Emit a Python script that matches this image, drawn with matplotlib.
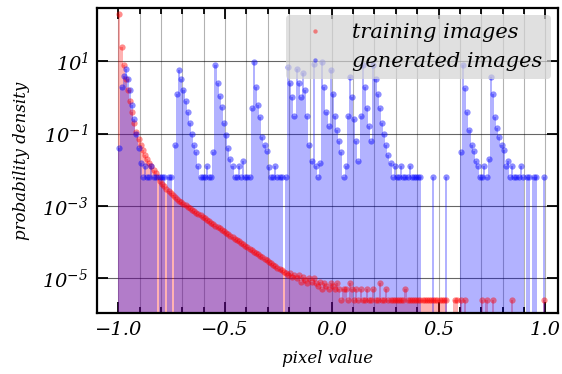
import matplotlib
matplotlib.use("Agg")
import matplotlib.pyplot as plt
import matplotlib.ticker as mticker
import numpy as np

plt.rcParams["font.family"] = "DejaVu Serif"
plt.rcParams["font.style"] = "italic"
plt.rcParams["mathtext.fontset"] = "dejavuserif"
plt.rcParams["mathtext.default"] = "it"

# histogram bins: left edges, width 0.01, from -1.0 to 1.0
BIN_LEFT = np.round(np.arange(-1.0, 1.0, 0.01), 2)
BIN_WIDTH = 0.01

# log10(probability density) per bin, None = empty bin
TRAIN_LOG = [
    2.3, 1.4, 0.9, 0.5, 0.2, -0.1, -0.4, -0.7, -0.95, -1.15,
    -1.3, -1.45, -1.58, -1.7, -1.8, -1.9, -2.0, -2.1, -2.2, -2.3,
    -2.38, -2.45, -2.52, -2.58, -2.64, -2.7, -2.75, -2.8, -2.85, -2.9,
    -2.94, -2.98, -3.02, -3.06, -3.1, -3.14, -3.18, -3.22, -3.26, -3.3,
    -3.34, -3.38, -3.42, -3.46, -3.5, -3.54, -3.58, -3.62, -3.66, -3.7,
    -3.74, -3.78, -3.82, -3.86, -3.9, -3.94, -3.98, -4.02, -4.06, -4.1,
    -4.14, -4.18, -4.22, -4.26, -4.3, -4.34, -4.38, -4.42, -4.46, -4.5,
    -4.54, -4.58, -4.62, -4.66, -4.7, -4.74, -4.78, -4.82, -4.86, -4.9,
    -4.85, -4.95, -4.9, -5.0, -4.92, -5.1, -4.95, -5.05, -5.14, -5.0,
    -5.1, -5.0, -5.14, -5.2, -5.1, -5.3, -5.14, -5.2, -5.3, -5.14,
    -5.2, -5.3, -5.14, -5.3, -5.6, -5.3, -5.3, -5.6, -5.14, -5.3,
    -5.6, -5.3, -5.6, -5.3, -5.6, -5.6, -5.3, -5.6, -5.6, -5.3,
    -5.6, -5.6, -5.14, -5.6, -5.6, -5.3, -5.6, -5.6, -5.6, -5.6,
    -5.6, -5.6, -5.6, -5.6, -5.3, -5.6, -5.6, -5.6, -5.6, -5.6,
    -5.6, -5.6, -5.6, -5.6, -5.6, -5.6, -5.6, -5.6, -5.6, -5.6,
    -5.6, -5.6, -5.6, -5.6, None, None, None, -5.6, -5.6, None,
    -5.6, None, -5.6, None, None, None, None, None, None, None,
    -5.6, None, -5.6, None, None, -5.6, None, None, None, None,
    None, None, None, None, -5.6, None, None, None, None, None,
    None, None, None, None, None, None, None, None, None, -5.6,
]

GEN_LOG = [
    -1.4, 0.3, 0.6, 0.8, 0.5, 0.2, -0.2, -0.6, -1.0, -1.4,
    -1.8, -2.2, -1.9, -2.2, -2.2, -1.9, -2.2, -2.2, None, -2.2,
    -2.2, -2.2, None, -2.2, -2.2, None, -1.3, 0.1, 0.75, 0.5,
    0.2, -0.1, -0.4, -0.7, -1.0, -1.3, -1.5, -1.9, -2.2, -2.2,
    -2.2, -1.9, -2.2, -2.2, -1.5, 0.89, 0.4, 0.05, -0.27, -0.71,
    -1.05, -1.4, -1.7, -1.9, -2.2, -2.2, -1.9, -2.2, -1.75, -2.2,
    -2.2, -2.2, -0.3, 0.97, 0.3, -0.2, -0.55, -1.1, -1.3, -1.47,
    -1.93, -2.2, -2.2, -1.9, -2.2, -2.2, -2.2, None, -2.2, 0.83,
    0.4, 0.0, -0.5, 0.8, 0.4, 0.0, 0.67, 0.2, -0.5, -1.3,
    -1.75, 0.92, -1.9, -2.2, -1.8, 0.97, 0.3, -0.4, -0.8, 0.75,
    0.1, -0.5, -0.9, -1.2, -1.5, -2.2, -1.9, -0.5, 0.56, 0.0,
    -0.6, -1.2, -1.75, -0.5, 0.89, 0.3, -0.3, -0.8, -1.2, 0.89,
    0.5, 0.1, -0.3, -0.7, -1.0, -1.3, -1.6, -1.8, -2.2, -1.9,
    -2.2, -2.2, -1.9, -2.2, -2.2, -2.2, -1.9, -2.2, -2.2, -2.2,
    -2.2, -2.2, None, None, None, None, None, -2.2, None, None,
    None, None, None, -2.2, None, None, None, None, None, None,
    -1.5, 0.89, 0.25, -0.4, -0.9, -1.3, -1.47, -1.75, -1.9, -2.2,
    -2.2, -1.9, -2.2, -1.7, 0.56, 0.1, -0.55, -0.85, -1.1, -1.3,
    -1.45, -1.9, -1.75, -2.2, -1.9, -2.2, -2.2, -2.2, -1.9, -2.2,
    None, -2.2, -2.2, None, -2.2, -2.2, None, None, None, -2.2,
]


def to_density(log_vals):
    return np.array([np.nan if v is None else 10.0 ** v for v in log_vals])


train = to_density(TRAIN_LOG)
gen = to_density(GEN_LOG)

fig = plt.figure(figsize=(5.62, 3.74), dpi=100)
ax = fig.add_axes([0.1726, 0.163, 0.8204, 0.816])
ax.set_yscale("log")

for dens, col, lab in [(train, "red", "training images"), (gen, "blue", "generated images")]:
    ok = ~np.isnan(dens)
    ax.bar(BIN_LEFT[ok], dens[ok], width=BIN_WIDTH, align="edge",
           color=col, alpha=0.3, linewidth=0, zorder=2)
    ax.plot(BIN_LEFT[ok] + BIN_WIDTH / 2, dens[ok], "o", color=col,
            ms=4.5, alpha=0.45, mew=0, label=lab, zorder=3)

ax.set_xlim(-1.1, 1.06)
ax.set_ylim(1.1e-6, 300)

ax.xaxis.set_major_locator(mticker.MultipleLocator(0.5))
ax.xaxis.set_minor_locator(mticker.MultipleLocator(0.1))
ax.yaxis.set_major_locator(mticker.FixedLocator([1e-5, 1e-3, 1e-1, 1e1]))
ax.yaxis.set_minor_locator(mticker.NullLocator())

ax.tick_params(which="both", direction="in", top=True, right=True, width=1.3)
ax.tick_params(which="major", length=8, labelsize=14, pad=6)
ax.tick_params(which="minor", length=4)

ax.grid(which="both", axis="x", color="gray", alpha=0.6, lw=0.8, zorder=1)
ax.grid(which="major", axis="y", color="black", alpha=0.6, lw=0.8, zorder=1)
ax.set_axisbelow(True)

for s in ax.spines.values():
    s.set_linewidth(1.6)

ax.set_xlabel("pixel value", fontsize=12, labelpad=8)
ax.set_ylabel("probability density", fontsize=12, labelpad=9)

leg = ax.legend(loc="upper right", fontsize=15, facecolor="lightgray",
                edgecolor="none", framealpha=0.7, markerscale=0.7,
                borderaxespad=0.35, handletextpad=0.8, labelspacing=0.45)

fig.savefig("out.png", dpi=100)
